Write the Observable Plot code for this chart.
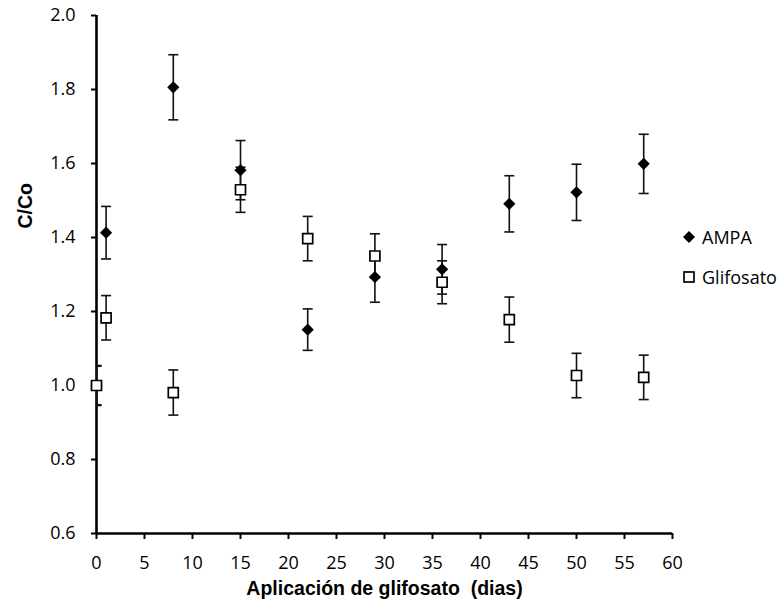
<!DOCTYPE html>
<html>
<head>
<meta charset="utf-8">
<script src="https://cdn.jsdelivr.net/npm/d3@7"></script>
<script src="https://cdn.jsdelivr.net/npm/@observablehq/plot@0.6"></script>
<style>
  html, body { margin: 0; padding: 0; background: #fff; }
  #wrap { position: relative; width: 778px; height: 609px; }
  .leg { position: absolute; left: 682px; height: 24px; line-height: 24px; font-family: "Open Sans", sans-serif; font-size: 18px; color: #000; white-space: nowrap; }
  .leg svg { vertical-align: top; }
  .leg span { margin-left: 6px; }
</style>
</head>
<body>
<div id="wrap"></div>
<script>
// ---- data ----
const days = [0, 1, 8, 15, 22, 29, 36, 43, 50, 57];
const ampa = [1.00, 1.413, 1.806, 1.582, 1.151, 1.293, 1.314, 1.491, 1.522, 1.599];
const ampaErr = [0.054, 0.071, 0.088, 0.080, 0.056, 0.068, 0.067, 0.076, 0.076, 0.080];
const glif = [1.00, 1.183, 0.981, 1.529, 1.397, 1.350, 1.279, 1.178, 1.027, 1.022];
const glifErr = [0.052, 0.060, 0.061, 0.061, 0.060, 0.060, 0.058, 0.061, 0.060, 0.060];
const seriesNames = ["AMPA", "Glifosato"];
const xTicks = [0, 5, 10, 15, 20, 25, 30, 35, 40, 45, 50, 55, 60];
const yTicks = [0.6, 0.8, 1.0, 1.2, 1.4, 1.6, 1.8, 2.0];
const xTitle = "Aplicación de glifosato  (dias)";
const yTitle = "C/Co";

const ampaRows = days.map((d, i) => ({day: d, v: ampa[i], e: ampaErr[i]}));
const glifRows = days.map((d, i) => ({day: d, v: glif[i], e: glifErr[i]}));
const allRows = ampaRows.concat(glifRows);

const cap = {draw(ctx, size) { const r = Math.sqrt(size / Math.PI); ctx.moveTo(-r, 0); ctx.lineTo(r, 0); }};
const barColor = "#111";

const chart = Plot.plot({
  width: 778,
  height: 609,
  marginLeft: 96,
  marginRight: 106,
  marginTop: 15,
  marginBottom: 76,
  x: {domain: [0, 60]},
  y: {domain: [0.6, 2.0]},
  style: {fontFamily: "'Open Sans', sans-serif", fontSize: "18px", color: "#000", background: "#fff"},
  marks: [
    Plot.axisY({ticks: yTicks, tickFormat: d3.format(".1f"), tickSize: 5, tickPadding: 16, strokeWidth: 2, label: null, fontSize: 18}),
    Plot.axisX({ticks: xTicks, tickFormat: d => String(d), tickSize: 6, tickPadding: 17, strokeWidth: 2, label: null, fontSize: 18}),
    Plot.ruleX([0], {stroke: "#000", strokeWidth: 2.6}),
    Plot.ruleY([0.6], {stroke: "#000", strokeWidth: 2.6}),
    // error bars
    Plot.ruleX(allRows, {x: "day", y1: d => d.v - d.e, y2: d => d.v + d.e, stroke: barColor, strokeWidth: 1.6, clip: true}),
    Plot.dot(allRows, {x: "day", y: d => d.v + d.e, symbol: cap, r: 5, fill: "none", stroke: barColor, strokeWidth: 1.6, clip: true}),
    Plot.dot(allRows, {x: "day", y: d => d.v - d.e, symbol: cap, r: 5, fill: "none", stroke: barColor, strokeWidth: 1.6, clip: true}),
    // markers
    Plot.dot(ampaRows, {x: "day", y: "v", symbol: "diamond2", r: 5.5, fill: "#000", stroke: "none"}),
    Plot.dot(glifRows, {x: "day", y: "v", symbol: "square", r: 5.64, fill: "#fff", stroke: "#000", strokeWidth: 1.7}),
    // axis titles
    Plot.text([xTitle], {frameAnchor: "bottom", dy: 61, fontFamily: "'Liberation Sans', Arial, sans-serif", fontWeight: "bold", fontSize: 19.5, fill: "#000"}),
    Plot.text([yTitle], {frameAnchor: "left", dx: -71, dy: -46, rotate: -90, fontFamily: "'Liberation Sans', Arial, sans-serif", fontWeight: "bold", fontSize: 19.5, fill: "#000"})
  ]
});

const wrap = document.getElementById("wrap");
wrap.appendChild(chart);

// legend
const legSymbols = [
  '<path d="M7,6 L13,12 L7,18 L1,12 Z" fill="#000"/>',
  '<rect x="2" y="7" width="10" height="10" fill="#fff" stroke="#000" stroke-width="1.7"/>'
];
seriesNames.forEach((name, i) => {
  const div = document.createElement("div");
  div.className = "leg";
  div.style.top = (225 + 40 * i) + "px";
  div.innerHTML = '<svg width="14" height="24">' + legSymbols[i] + '</svg><span>' + name + '</span>';
  wrap.appendChild(div);
});
</script>
</body>
</html>
